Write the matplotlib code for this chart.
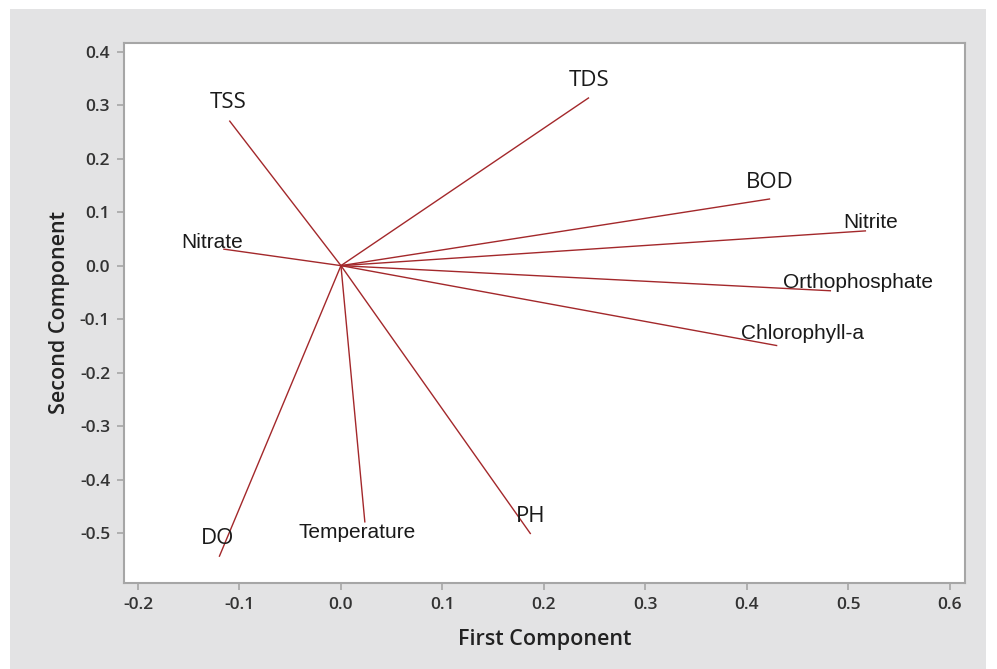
import matplotlib
matplotlib.use("Agg")
import matplotlib.pyplot as plt
from matplotlib.patches import Rectangle

# Loadings (first component, second component)
variables = ["TSS", "TDS", "BOD", "Nitrite", "Orthophosphate", "Chlorophyll-a",
             "PH", "Temperature", "DO", "Nitrate"]
pc1 = [-0.110, 0.2445, 0.423, 0.5175, 0.483, 0.430, 0.187, 0.0236, -0.120, -0.116]
pc2 = [0.271, 0.314, 0.1247, 0.065, -0.047, -0.1495, -0.5015, -0.480, -0.544, 0.031]

# Label anchor positions (data coords)
label_x = [-0.111, 0.245, 0.4226, 0.522, 0.510, 0.455, 0.187, 0.0158, -0.122, -0.127]
label_y = [0.304, 0.345, 0.156, 0.0797, -0.031, -0.126, -0.468, -0.499, -0.509, 0.0425]
label_font = ["Open Sans", "Open Sans", "Open Sans", "Liberation Sans", "Liberation Sans",
              "Liberation Sans", "Open Sans", "Liberation Sans", "Open Sans", "Liberation Sans"]

xticks = [-0.2, -0.1, 0.0, 0.1, 0.2, 0.3, 0.4, 0.5, 0.6]
yticks = [-0.5, -0.4, -0.3, -0.2, -0.1, 0.0, 0.1, 0.2, 0.3, 0.4]

fig = plt.figure(figsize=(9.97, 6.69), dpi=100, facecolor="white")
W, H = 997, 669
bg = Rectangle((10 / W, 0), (986 - 10) / W, (H - 9) / H,
               transform=fig.transFigure, facecolor="#e3e3e4",
               edgecolor="none", zorder=-10)
fig.add_artist(bg)

ax = fig.add_axes([124 / W, (H - 583) / H, (965 - 124) / W, (583 - 43) / H])
ax.set_zorder(1)
ax.set_facecolor("white")
ax.set_xlim(-0.2138, 0.615)
ax.set_ylim(-0.593, 0.416)

line_color = "#a3282b"
for x, y in zip(pc1, pc2):
    ax.plot([0, x], [0, y], color=line_color, lw=1.0, solid_capstyle="butt")

for name, lx, ly, fnt in zip(variables, label_x, label_y, label_font):
    size = 16 if fnt == "Open Sans" else 15
    ax.text(lx, ly, name, ha="center", va="center", fontsize=size,
            family=fnt, color="#1a1a1a")

ax.set_xticks(xticks)
ax.set_yticks(yticks)
ax.set_xticklabels([f"{v:.1f}" for v in xticks])
ax.set_yticklabels([f"{v:.1f}" for v in yticks])
for s in ax.spines.values():
    s.set_color("#a6a6a6")
    s.set_linewidth(1.5)
ax.tick_params(direction="out", length=5, width=1.2, color="#a6a6a6",
               labelcolor="#333333", labelsize=12.5, pad=5)
for lab in ax.get_xticklabels() + ax.get_yticklabels():
    lab.set_family("Open Sans")
    lab.set_fontweight("semibold")

ax.set_xlabel("First Component", fontsize=15.5, family="Open Sans",
              fontweight="semibold", color="#222222")
ax.set_ylabel("Second Component", fontsize=15.5, family="Open Sans",
              fontweight="semibold", color="#222222")
ax.xaxis.set_label_coords((544.5 - 124) / 841, -(629 - 583) / 540)
ax.yaxis.set_label_coords(-(124 - 70) / 841, 0.5)

fig.savefig("out.png", dpi=100, facecolor="white")
